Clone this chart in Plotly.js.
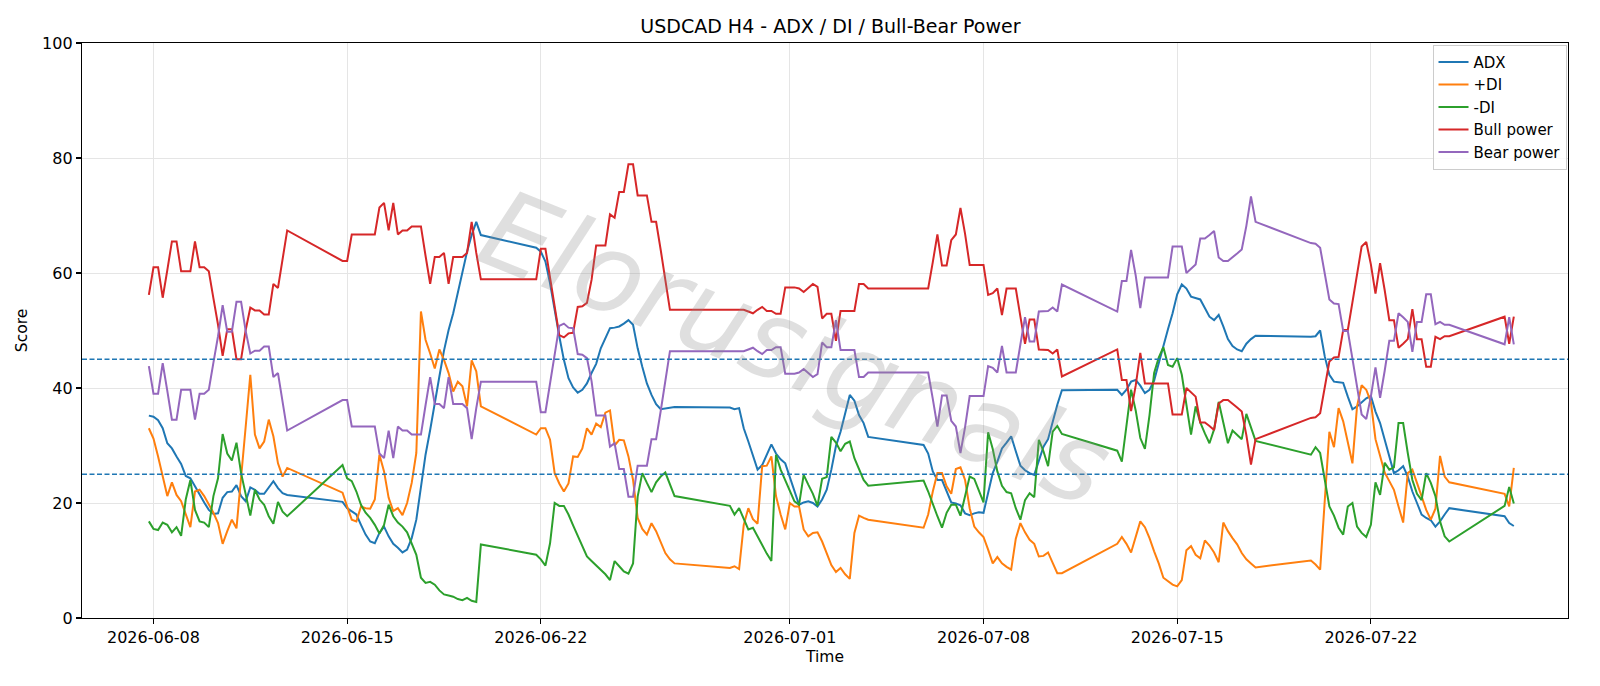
<!DOCTYPE html>
<html>
<head>
<meta charset="utf-8">
<script src="https://cdn.plot.ly/plotly-3.0.1.min.js"></script>
<style>html,body{margin:0;padding:0;background:#fff}#chart{width:1600px;height:686px}</style>
</head>
<body>
<div id="chart"></div>
<script>
// H4 bar times (UTC)
const times = [
'2026-06-07 20:00',
'2026-06-08 00:00','2026-06-08 04:00','2026-06-08 08:00','2026-06-08 12:00','2026-06-08 16:00','2026-06-08 20:00',
'2026-06-09 00:00','2026-06-09 04:00','2026-06-09 08:00','2026-06-09 12:00','2026-06-09 16:00','2026-06-09 20:00',
'2026-06-10 00:00','2026-06-10 04:00','2026-06-10 08:00','2026-06-10 12:00','2026-06-10 16:00','2026-06-10 20:00',
'2026-06-11 00:00','2026-06-11 04:00','2026-06-11 08:00','2026-06-11 12:00','2026-06-11 16:00','2026-06-11 20:00',
'2026-06-12 00:00','2026-06-12 04:00','2026-06-12 08:00','2026-06-12 12:00','2026-06-12 16:00','2026-06-12 20:00',
'2026-06-14 20:00',
'2026-06-15 00:00','2026-06-15 04:00','2026-06-15 08:00','2026-06-15 12:00','2026-06-15 16:00','2026-06-15 20:00',
'2026-06-16 00:00','2026-06-16 04:00','2026-06-16 08:00','2026-06-16 12:00','2026-06-16 16:00','2026-06-16 20:00',
'2026-06-17 00:00','2026-06-17 04:00','2026-06-17 08:00','2026-06-17 12:00','2026-06-17 16:00','2026-06-17 20:00',
'2026-06-18 00:00','2026-06-18 04:00','2026-06-18 08:00','2026-06-18 12:00','2026-06-18 16:00','2026-06-18 20:00',
'2026-06-19 00:00','2026-06-19 04:00','2026-06-19 08:00','2026-06-19 12:00','2026-06-19 16:00','2026-06-19 20:00',
'2026-06-21 20:00',
'2026-06-22 00:00','2026-06-22 04:00','2026-06-22 08:00','2026-06-22 12:00','2026-06-22 16:00','2026-06-22 20:00',
'2026-06-23 00:00','2026-06-23 04:00','2026-06-23 08:00','2026-06-23 12:00','2026-06-23 16:00','2026-06-23 20:00',
'2026-06-24 00:00','2026-06-24 04:00','2026-06-24 08:00','2026-06-24 12:00','2026-06-24 16:00','2026-06-24 20:00',
'2026-06-25 00:00','2026-06-25 04:00','2026-06-25 08:00','2026-06-25 12:00','2026-06-25 16:00','2026-06-25 20:00',
'2026-06-26 00:00','2026-06-26 04:00','2026-06-26 08:00','2026-06-26 12:00','2026-06-26 16:00','2026-06-26 20:00',
'2026-06-28 20:00',
'2026-06-29 00:00','2026-06-29 04:00','2026-06-29 08:00','2026-06-29 12:00','2026-06-29 16:00','2026-06-29 20:00',
'2026-06-30 00:00','2026-06-30 04:00','2026-06-30 08:00','2026-06-30 12:00','2026-06-30 16:00','2026-06-30 20:00',
'2026-07-01 00:00','2026-07-01 04:00','2026-07-01 08:00','2026-07-01 12:00','2026-07-01 16:00','2026-07-01 20:00',
'2026-07-02 00:00','2026-07-02 04:00','2026-07-02 08:00','2026-07-02 12:00','2026-07-02 16:00','2026-07-02 20:00',
'2026-07-03 00:00','2026-07-03 04:00','2026-07-03 08:00','2026-07-03 12:00','2026-07-03 16:00','2026-07-03 20:00',
'2026-07-05 20:00',
'2026-07-06 00:00','2026-07-06 04:00','2026-07-06 08:00','2026-07-06 12:00','2026-07-06 16:00','2026-07-06 20:00',
'2026-07-07 00:00','2026-07-07 04:00','2026-07-07 08:00','2026-07-07 12:00','2026-07-07 16:00','2026-07-07 20:00',
'2026-07-08 00:00','2026-07-08 04:00','2026-07-08 08:00','2026-07-08 12:00','2026-07-08 16:00','2026-07-08 20:00',
'2026-07-09 00:00','2026-07-09 04:00','2026-07-09 08:00','2026-07-09 12:00','2026-07-09 16:00','2026-07-09 20:00',
'2026-07-10 00:00','2026-07-10 04:00','2026-07-10 08:00','2026-07-10 12:00','2026-07-10 16:00','2026-07-10 20:00',
'2026-07-12 20:00',
'2026-07-13 00:00','2026-07-13 04:00','2026-07-13 08:00','2026-07-13 12:00','2026-07-13 16:00','2026-07-13 20:00',
'2026-07-14 00:00','2026-07-14 04:00','2026-07-14 08:00','2026-07-14 12:00','2026-07-14 16:00','2026-07-14 20:00',
'2026-07-15 00:00','2026-07-15 04:00','2026-07-15 08:00','2026-07-15 12:00','2026-07-15 16:00','2026-07-15 20:00',
'2026-07-16 00:00','2026-07-16 04:00','2026-07-16 08:00','2026-07-16 12:00','2026-07-16 16:00','2026-07-16 20:00',
'2026-07-17 00:00','2026-07-17 04:00','2026-07-17 08:00','2026-07-17 12:00','2026-07-17 16:00','2026-07-17 20:00',
'2026-07-19 20:00',
'2026-07-20 00:00','2026-07-20 04:00','2026-07-20 08:00','2026-07-20 12:00','2026-07-20 16:00','2026-07-20 20:00',
'2026-07-21 00:00','2026-07-21 04:00','2026-07-21 08:00','2026-07-21 12:00','2026-07-21 16:00','2026-07-21 20:00',
'2026-07-22 00:00','2026-07-22 04:00','2026-07-22 08:00','2026-07-22 12:00','2026-07-22 16:00','2026-07-22 20:00',
'2026-07-23 00:00','2026-07-23 04:00','2026-07-23 08:00','2026-07-23 12:00','2026-07-23 16:00','2026-07-23 20:00',
'2026-07-24 00:00','2026-07-24 04:00','2026-07-24 08:00','2026-07-24 12:00','2026-07-24 16:00','2026-07-24 20:00',
'2026-07-26 20:00',
'2026-07-27 00:00','2026-07-27 04:00'
];

const adx = [
35.2,35.0,34.4,33.0,30.4,29.5,28.1,26.8,24.7,24.3,22.9,21.4,20.1,18.8,18.1,18.2,20.9,21.9,22.0,23.1,21.2,20.3,22.7,22.3,21.6,21.6,22.6,23.8,22.6,21.7,21.4,
20.2,19.1,18.5,18.0,16.2,14.5,13.3,13.0,14.8,15.9,14.2,12.9,12.2,11.4,11.9,13.9,17.1,22.9,28.4,32.7,37.6,42.0,46.5,50.1,53.0,56.7,60.5,63.7,66.6,68.9,66.6,
64.4,63.7,62.0,58.2,53.5,49.0,44.9,41.7,40.1,39.2,39.7,40.8,42.6,44.2,46.9,48.6,50.4,50.5,50.7,51.2,51.8,51.0,46.9,43.7,40.8,38.8,37.2,36.3,36.4,36.5,36.7,
36.6,36.3,36.5,33.0,30.7,28.2,25.8,26.6,28.4,30.2,28.6,27.6,26.9,24.5,21.8,19.7,20.1,20.3,20.0,19.4,20.6,22.3,25.8,29.9,32.4,35.6,38.8,37.8,35.3,33.9,31.5,
30.1,28.6,25.5,24.0,24.0,22.0,20.1,19.9,19.6,18.2,17.9,18.2,18.4,18.3,21.7,25.2,27.2,29.5,30.5,31.6,29.0,26.5,25.7,25.2,24.9,27.4,29.8,31.1,34.2,37.1,39.6,
39.7,38.8,39.7,41.1,41.4,40.4,39.1,39.7,41.3,44.3,47.5,50.2,53.0,56.3,58.0,57.3,55.9,55.7,55.4,53.9,52.4,51.8,52.7,50.7,48.5,47.3,46.7,46.4,47.7,48.5,49.1,
48.9,49.0,50.0,45.5,42.3,41.1,41.0,40.9,38.5,36.3,36.8,37.5,38.2,38.6,35.9,33.9,31.0,28.1,25.2,25.7,26.4,24.6,22.0,20.0,18.0,17.4,17.0,15.9,16.8,18.0,19.1,
17.7,16.5,16.0
];

const plusDI = [
33.0,31.2,28.1,24.6,21.2,23.6,21.4,20.3,18.0,15.8,22.0,22.3,21.2,19.7,18.3,16.5,12.9,15.1,17.1,15.6,24.0,33.3,42.3,31.9,29.5,30.7,34.5,31.6,26.9,24.6,26.1,
21.8,19.4,17.1,16.8,19.4,19.1,19.0,20.6,28.4,25.5,20.9,18.6,19.1,17.9,20.0,23.5,28.7,53.3,48.4,46.0,43.4,46.7,44.9,42.6,39.4,41.1,40.3,36.8,44.8,42.9,36.8,
31.9,33.0,33.0,31.0,25.2,23.4,22.0,23.4,28.1,28.0,29.5,33.0,31.9,33.8,33.2,35.7,36.1,30.0,31.0,30.9,28.1,24.0,17.4,15.5,14.5,16.5,15.1,13.3,11.3,10.2,9.5,
8.7,9.0,8.5,16.2,19.1,17.2,16.4,26.4,26.5,28.1,21.2,18.0,15.4,20.0,19.4,19.4,15.4,14.2,14.8,14.9,13.3,11.3,9.2,8.0,8.7,7.6,6.8,14.8,17.8,17.4,17.1,
15.7,18.0,22.0,25.2,25.2,22.9,21.6,25.9,26.2,24.0,19.1,15.9,14.9,14.1,11.9,9.5,10.6,9.5,8.9,8.4,13.8,16.5,14.9,13.6,12.9,10.7,10.8,11.4,9.6,7.8,7.8,
12.9,14.1,12.9,11.4,13.9,16.8,15.8,13.9,11.6,9.5,7.0,6.4,5.8,5.5,6.6,11.8,12.5,11.0,10.4,13.5,12.6,11.4,9.7,16.6,15.1,13.9,12.8,11.3,10.2,9.5,8.8,
10.0,9.3,8.4,20.4,32.4,29.7,36.5,34.2,30.4,26.9,36.8,40.5,39.7,37.6,31.1,28.4,25.3,23.8,22.3,19.4,16.6,25.2,25.8,23.5,21.2,18.8,17.1,19.0,28.2,24.6,23.6,
21.6,19.4,26.1
];

const minusDI = [
16.8,15.5,15.3,16.6,16.2,14.9,15.8,14.3,20.6,24.0,18.8,16.8,16.6,15.8,21.2,24.3,32.0,28.6,27.4,30.5,25.2,21.2,17.8,22.3,20.6,19.7,17.7,16.4,20.2,18.5,17.7,
26.6,24.3,23.8,22.0,19.7,18.3,17.4,16.2,14.7,16.2,19.7,17.7,16.6,15.9,14.9,13.1,11.0,7.0,6.1,6.3,5.8,4.8,4.1,3.9,3.7,3.3,3.1,3.5,3.0,2.8,12.8,
11.0,10.2,9.1,13.0,20.0,19.5,19.5,18.0,16.1,14.3,12.8,10.7,9.9,9.1,8.3,7.6,6.6,9.9,9.0,8.1,7.7,9.5,21.1,25.2,23.5,21.9,23.6,24.6,25.3,23.2,21.2,
19.5,18.0,19.1,17.1,15.4,15.7,14.2,12.5,11.2,9.9,28.4,25.8,24.0,22.0,20.3,19.7,24.9,23.2,21.6,19.5,24.2,24.5,31.5,30.5,29.0,30.3,30.7,27.8,25.8,24.0,23.0,
23.9,22.0,19.7,17.7,15.7,18.3,19.7,19.7,17.8,21.4,24.6,24.2,22.0,20.1,32.3,29.4,25.5,23.0,21.9,21.7,19.1,17.1,20.5,21.7,21.0,31.0,29.0,26.4,32.4,33.4,32.0,
29.1,27.2,33.2,39.7,36.1,31.3,29.4,35.3,42.6,45.3,47.1,44.0,43.7,45.2,42.3,37.1,31.9,36.8,34.0,32.1,30.4,32.8,37.6,34.0,30.4,32.6,31.9,31.1,35.5,33.0,30.8,
28.4,29.7,28.7,24.0,19.4,17.8,15.7,14.5,19.4,20.0,15.9,14.8,14.1,16.2,23.6,21.4,27.0,25.8,26.2,33.9,33.9,28.7,24.0,21.6,20.5,25.2,23.5,21.2,16.8,14.2,13.3,
19.5,22.8,19.9
];

const bullPower = [
56.2,61.0,61.0,55.7,60.5,65.5,65.5,60.3,60.3,60.3,65.5,61.0,61.0,60.3,55.6,51.0,45.6,50.2,50.2,45.0,45.0,50.1,54.0,53.5,53.5,52.8,52.8,58.1,57.4,62.4,67.4,
62.1,62.1,66.7,66.7,66.7,66.7,66.7,66.7,71.4,72.2,67.4,72.2,66.7,67.4,67.4,68.1,68.1,68.1,63.0,58.1,62.8,62.8,63.5,58.1,62.8,62.8,62.8,63.5,68.9,63.5,58.9,
58.9,64.2,64.2,59.4,54.7,49.2,48.8,49.5,49.6,54.1,54.2,54.8,58.8,64.8,64.8,64.8,70.2,69.6,74.1,74.1,78.9,78.9,73.5,73.5,73.5,68.9,68.9,64.0,58.8,53.6,53.6,
53.6,53.6,53.6,53.6,53.3,53.0,53.6,54.1,53.4,53.4,52.9,52.9,57.5,57.5,57.5,57.3,56.7,57.4,58.1,57.6,52.1,52.9,52.9,48.2,53.4,53.4,53.4,53.4,58.1,58.1,57.3,
57.3,57.3,61.9,66.7,61.3,61.3,65.7,66.7,71.3,66.8,61.4,61.4,61.4,61.4,56.2,56.5,57.3,52.7,57.3,57.3,57.3,52.4,47.7,51.9,51.9,46.7,46.6,46.6,46.0,46.7,42.0,
46.7,41.4,41.4,36.0,40.4,46.1,40.8,40.8,40.8,40.8,40.8,40.8,35.4,35.4,35.4,40.0,39.3,38.5,34.0,34.0,33.4,32.7,37.3,37.9,37.9,37.3,36.6,35.9,31.8,26.7,31.1,
34.8,34.9,35.6,40.0,44.6,45.3,45.4,50.1,50.1,54.9,59.8,64.6,65.4,61.5,56.4,61.7,57.0,51.8,51.8,47.0,47.7,48.5,53.7,48.5,48.5,43.7,43.7,48.9,48.5,49.0,49.0,
52.4,47.7,52.4
];

const bearPower = [
43.8,39.0,39.0,44.3,39.5,34.5,34.5,39.7,39.7,39.7,34.5,39.0,39.0,39.7,44.4,49.0,54.4,49.8,49.8,55.0,55.0,49.9,46.0,46.5,46.5,47.2,47.2,41.9,42.6,37.6,32.6,
37.9,37.9,33.3,33.3,33.3,33.3,33.3,33.3,28.6,27.8,32.6,27.8,33.3,32.6,32.6,31.9,31.9,31.9,37.0,41.9,37.2,37.2,36.5,41.9,37.2,37.2,37.2,36.5,31.1,36.5,41.1,
41.1,35.8,35.8,40.6,45.3,50.8,51.2,50.5,50.4,45.9,45.8,45.2,41.2,35.2,35.2,35.2,29.8,30.4,25.9,25.9,21.1,21.1,26.5,26.5,26.5,31.1,31.1,36.0,41.2,46.4,46.4,
46.4,46.4,46.4,46.4,46.7,47.0,46.4,45.9,46.6,46.6,47.1,47.1,42.5,42.5,42.5,42.7,43.3,42.6,41.9,42.4,47.9,47.1,47.1,51.8,46.6,46.6,46.6,46.6,41.9,41.9,42.7,
42.7,42.7,38.1,33.3,38.7,38.7,34.3,33.3,28.7,33.2,38.6,38.6,38.6,38.6,43.8,43.5,42.7,47.3,42.7,42.7,42.7,47.6,52.3,48.1,48.1,53.3,53.4,53.4,54.0,53.3,58.0,
53.3,58.6,58.6,64.0,59.6,53.9,59.2,59.2,59.2,59.2,59.2,59.2,64.6,64.6,64.6,60.0,60.7,61.5,66.0,66.0,66.6,67.3,62.7,62.1,62.1,62.7,63.4,64.1,68.2,73.3,68.9,
65.2,65.1,64.4,60.0,55.4,54.7,54.6,49.9,49.9,45.1,40.2,35.4,34.6,38.5,43.6,38.3,43.0,48.2,48.2,53.0,52.3,51.5,46.3,51.5,51.5,56.3,56.3,51.1,51.5,51.0,51.0,
47.6,52.3,47.6
];

const tickDates = ['2026-06-08','2026-06-15','2026-06-22','2026-07-01','2026-07-08','2026-07-15','2026-07-22'];
const thresholds = [45, 25];
const watermark = 'Elorusignals';

const seriesDefs = [
  {name: 'ADX', y: adx, color: '#1f77b4'},
  {name: '+DI', y: plusDI, color: '#ff7f0e'},
  {name: '-DI', y: minusDI, color: '#2ca02c'},
  {name: 'Bull power', y: bullPower, color: '#d62728'},
  {name: 'Bear power', y: bearPower, color: '#9467bd'}
];

const traces = seriesDefs.map(s => ({
  type: 'scatter', mode: 'lines', name: s.name, x: times, y: s.y,
  line: {color: s.color, width: 2}
}));

const font = 'DejaVu Sans, Liberation Sans, sans-serif';
const axisCommon = {
  showline: true, mirror: true, linecolor: '#000', linewidth: 1.2,
  ticks: 'outside', ticklen: 5, tickwidth: 1.2, tickcolor: '#000',
  showgrid: true, gridcolor: '#e5e5e5', gridwidth: 1, zeroline: false,
  tickfont: {family: font, size: 16, color: '#000'}
};

const layout = {
  width: 1600, height: 686,
  margin: {l: 82, r: 32, t: 43, b: 68},
  paper_bgcolor: '#fff', plot_bgcolor: '#fff',
  font: {family: font, color: '#000'},
  title: {text: 'USDCAD H4 - ADX / DI / Bull-Bear Power', font: {family: font, size: 19, color: '#000'},
          x: 0.519, xanchor: 'center', y: 0.962, yanchor: 'middle'},
  xaxis: Object.assign({}, axisCommon, {
    type: 'date', range: ['2026-06-05 10:00', '2026-07-29 03:00'],
    tickvals: tickDates, ticktext: tickDates,
    title: {text: 'Time', font: {family: font, size: 15.5, color: '#000'}, standoff: 4}
  }),
  yaxis: Object.assign({}, axisCommon, {
    range: [0, 100], tickvals: [0, 20, 40, 60, 80, 100],
    title: {text: 'Score', font: {family: font, size: 15.5, color: '#000'}, standoff: 10}
  }),
  shapes: thresholds.map(v => ({
    type: 'line', xref: 'paper', x0: 0, x1: 1, yref: 'y', y0: v, y1: v,
    line: {color: '#1f77b4', width: 1.3, dash: '5px,2.5px'}, layer: 'above'
  })),
  annotations: [{
    text: watermark, xref: 'paper', yref: 'paper', x: 0.48, y: 0.47,
    showarrow: false, textangle: 22,
    font: {family: 'DejaVu Sans, sans-serif', size: 110, style: 'italic', color: 'rgba(140,140,140,0.28)'}
  }],
  legend: {
    x: 0.999, xanchor: 'right', y: 0.997, yanchor: 'top',
    bgcolor: 'rgba(255,255,255,0.85)', bordercolor: '#cccccc', borderwidth: 1,
    font: {family: font, size: 15, color: '#000'}, tracegroupgap: 0
  },
  showlegend: true
};

Plotly.newPlot('chart', traces, layout, {displayModeBar: false, staticPlot: true});
</script>
</body>
</html>
